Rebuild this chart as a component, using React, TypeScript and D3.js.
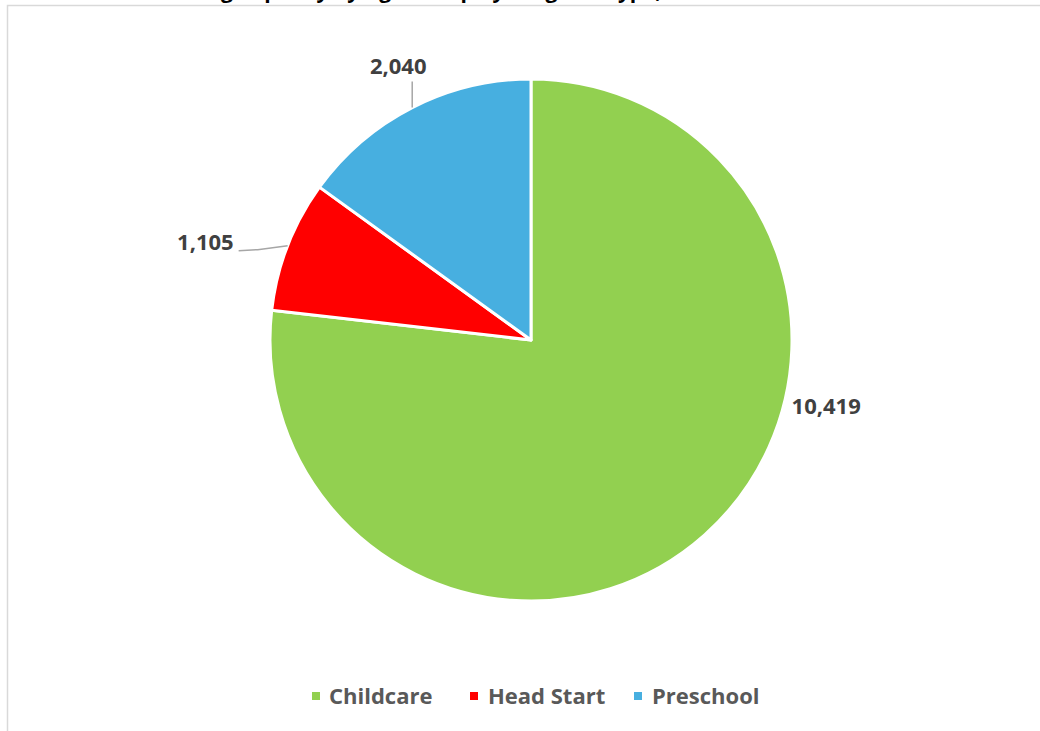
import React from "react";
import * as d3 from "d3";

const categories = ["Childcare", "Head Start", "Preschool"];
const values = [10419, 1105, 2040];
const colors = ["#92d050", "#ff0000", "#47afe0"];
const titleText = "Licensing Capacity by Age Group by Program Type, 2024";

const W = 1040;
const H = 731;
const cx = 531;
const cy = 340;
const R = 261;
const FONT = "'Open Sans', 'Liberation Sans', Arial, sans-serif";
const FS = 22;

export default function App() {
  const pie = d3.pie<number>().sort(null).value((d) => d)(values);
  const arc = d3.arc<d3.PieArcDatum<number>>().innerRadius(0).outerRadius(R);
  const fmt = d3.format(",");

  const mids = pie.map((p) => (p.startAngle + p.endAngle) / 2);

  const pt = (angle: number, r: number): [number, number] => [
    cx + r * Math.sin(angle),
    cy - r * Math.cos(angle),
  ];

  // Excel moved the large slice's label up along the rim
  const childLabelAngle = (104.6 * Math.PI) / 180;

  const legendItems = [
    { x: 312, textX: 329 },
    { x: 470, textX: 488 },
    { x: 634, textX: 652 },
  ];

  return (
    <div style={{ position: "absolute", left: 0, top: 0, width: W, height: H, overflow: "hidden", background: "#fff" }}>
      <svg width={W} height={H} style={{ display: "block" }}>
        <rect x={0} y={0} width={W} height={H} fill="#ffffff" />
        <text x={425} y={-2} textAnchor="middle" fontFamily={FONT} fontWeight={700} fontSize={21} fill="#000">
          {titleText}
        </text>
        <rect x={7.5} y={5.5} width={W + 20} height={H + 20} fill="none" stroke="#d9d9d9" strokeWidth={1.5} />
        <g>
          {pie.map((p, i) => (
            <path
              key={categories[i]}
              d={arc(p) || ""}
              transform={`translate(${cx},${cy})`}
              fill={colors[i]}
              stroke="#ffffff"
              strokeWidth={3}
              strokeLinejoin="round"
            />
          ))}
        </g>
        {/* Childcare label */}
        {(() => {
          const [x, y] = pt(childLabelAngle, R);
          return (
            <text x={x + 8} y={y + 8} fontFamily={FONT} fontWeight={700} fontSize={FS} fill="#404040" textAnchor="start">
              {fmt(values[0])}
            </text>
          );
        })()}
        {/* Head Start label with leader line */}
        {(() => {
          const [x0, y0] = pt(mids[1], R);
          const elbowX = x0 - 30;
          const endX = x0 - 49;
          return (
            <g>
              <polyline
                points={`${x0},${y0} ${elbowX},${y0 + 4} ${endX},${y0 + 5}`}
                fill="none"
                stroke="#a6a6a6"
                strokeWidth={1.5}
              />
              <text x={endX - 5} y={y0 + 4} fontFamily={FONT} fontWeight={700} fontSize={FS} fill="#404040" textAnchor="end">
                {fmt(values[1])}
              </text>
            </g>
          );
        })()}
        {/* Preschool label with leader line */}
        {(() => {
          const [x0, y0] = pt(mids[2], R);
          return (
            <g>
              <line x1={x0} y1={y0} x2={x0} y2={y0 - 26} stroke="#a6a6a6" strokeWidth={1.5} />
              <text x={x0 - 14} y={y0 - 34} fontFamily={FONT} fontWeight={700} fontSize={FS} fill="#404040" textAnchor="middle">
                {fmt(values[2])}
              </text>
            </g>
          );
        })()}
        {/* Legend */}
        {categories.map((c, i) => (
          <g key={c}>
            <rect x={legendItems[i].x} y={692} width={8} height={8} fill={colors[i]} />
            <text x={legendItems[i].textX} y={704} fontFamily={FONT} fontWeight={700} fontSize={FS} fill="#595959">
              {c}
            </text>
          </g>
        ))}
      </svg>
    </div>
  );
}
